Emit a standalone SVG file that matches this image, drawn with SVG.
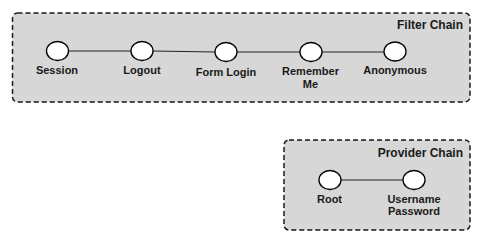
<svg xmlns="http://www.w3.org/2000/svg" width="481" height="243" viewBox="0 0 481 243">
<style>
.box{fill:#d7d7d7;stroke:#1a1a1a;stroke-width:1.5;stroke-dasharray:5,3}
.n{fill:#fff;stroke:#000;stroke-width:1.3}
.c{stroke:#222;stroke-width:1;fill:none}
.t{font-family:"Liberation Sans",Arial,sans-serif;font-weight:bold;font-size:11px;fill:#1a1a1a;text-anchor:middle}
.h{font-family:"Liberation Sans",Arial,sans-serif;font-weight:bold;font-size:12px;fill:#1a1a1a;text-anchor:end}
</style>
<rect width="481" height="243" fill="#fff"/>
<g id="filter-chain">
<rect class="box" x="12.5" y="13" width="457.5" height="89" rx="5"/>
<text class="h" x="463" y="28.5">Filter Chain</text>
</g>
<g id="provider-chain">
<rect class="box" x="284" y="140" width="186" height="90" rx="5"/>
<text class="h" x="463" y="157">Provider Chain</text>
</g>
<g id="connectors">
<line class="c" x1="68" y1="51" x2="131" y2="51"/>
<line class="c" x1="153" y1="51" x2="215" y2="52" stroke="#555"/>
<line class="c" x1="237" y1="52" x2="300" y2="52"/>
<line class="c" x1="322" y1="52" x2="384" y2="52" stroke="#555"/>
<line class="c" x1="341" y1="180" x2="403" y2="180"/>
</g>
<g id="session"><ellipse class="n" cx="57.5" cy="51" rx="11" ry="9.5"/><text class="t" x="57" y="74">Session</text></g>
<g id="logout"><ellipse class="n" cx="142" cy="51" rx="11" ry="9.5"/><text class="t" x="142" y="74">Logout</text></g>
<g id="form-login"><ellipse class="n" cx="226" cy="52" rx="11" ry="9.5"/><text class="t" x="226" y="75.5">Form Login</text></g>
<g id="remember-me"><ellipse class="n" cx="311" cy="52" rx="11" ry="9.5"/><text class="t" x="310.5" y="75">Remember</text><text class="t" x="310.5" y="88">Me</text></g>
<g id="anonymous"><ellipse class="n" cx="395" cy="51.5" rx="11" ry="9.5"/><text class="t" x="395" y="74">Anonymous</text></g>
<g id="root"><ellipse class="n" cx="330" cy="180" rx="11" ry="9.5"/><text class="t" x="329.5" y="203">Root</text></g>
<g id="username-password"><ellipse class="n" cx="414" cy="180" rx="11" ry="9.5"/><text class="t" x="414" y="203">Username</text><text class="t" x="414" y="215">Password</text></g>
</svg>
